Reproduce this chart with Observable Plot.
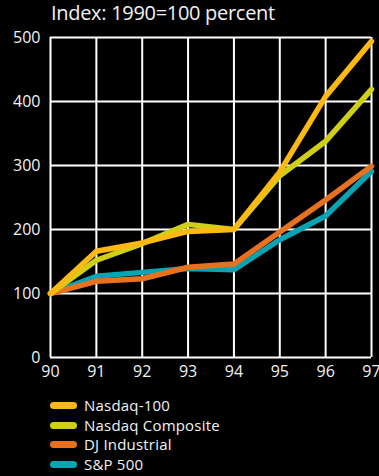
<!DOCTYPE html>
<html>
<head>
<meta charset="utf-8">
<script src="https://cdn.jsdelivr.net/npm/d3@7"></script>
<script src="https://cdn.jsdelivr.net/npm/@observablehq/plot@0.6"></script>
<style>
  html, body { margin: 0; padding: 0; background: #000; }
  body { width: 379px; height: 476px; overflow: hidden; font-family: "Open Sans", sans-serif; color: #f2f2f2; }
  #title { height: 26px; padding-left: 51px; font-size: 20px; line-height: 26px; letter-spacing: -0.3px; white-space: nowrap; }
  #chart svg { display: block; overflow: visible; }
  #legend { padding-left: 50px; padding-top: 11px; }
  .row { display: flex; align-items: center; height: 19.5px; line-height: 19.5px; font-size: 15px; letter-spacing: 0.2px; white-space: nowrap; }
  .sw { width: 27px; height: 7px; border-radius: 4px; margin-right: 7px; flex: none; }
</style>
</head>
<body>
<div id="title">Index: 1990=100 percent</div>
<div id="chart"></div>
<div id="legend"></div>
<script>
// Years shown on the x axis (two-digit labels)
const years = [90, 91, 92, 93, 94, 95, 96, 97];
const yTicks = [0, 100, 200, 300, 400, 500];

// Index values, 1990 = 100
const nasdaq100    = [100, 166, 179, 197, 200, 290, 408, 494];
const nasdaqComp   = [100, 152, 178, 208, 200, 284, 338, 419];
const djIndustrial = [100, 119, 123, 141, 146, 196, 246, 299];
const sp500        = [100, 127, 133, 139, 137, 184, 221, 291];

const seriesNames  = ["Nasdaq-100", "Nasdaq Composite", "DJ Industrial", "S&P 500"];
const seriesValues = [nasdaq100, nasdaqComp, djIndustrial, sp500];
const seriesColors = ["#fdb913", "#cfcf18", "#e8711f", "#0aa3b3"];

// Long-format table for Plot
const rows = [];
seriesNames.forEach((name, i) => {
  years.forEach((yr, j) => rows.push({series: name, year: yr, value: seriesValues[i][j]}));
});

// Draw back to front: S&P first, Nasdaq-100 on top
const drawOrder = [3, 2, 1, 0];

const chart = Plot.plot({
  width: 379,
  height: 359,
  marginTop: 11,
  marginBottom: 28,
  marginLeft: 50,
  marginRight: 8,
  style: {background: "#000", color: "#f2f2f2", fontFamily: "Open Sans, sans-serif", fontSize: "16px"},
  x: {domain: [90, 97], ticks: years, tickFormat: d => String(d), label: null, tickSize: 0, tickPadding: 8},
  y: {domain: [0, 500], ticks: yTicks, label: null, tickSize: 0, tickPadding: 10},
  marks: [
    Plot.gridX(years, {stroke: "#ffffff", strokeOpacity: 1, strokeWidth: 2}),
    Plot.gridY(yTicks, {stroke: "#ffffff", strokeOpacity: 1, strokeWidth: 2}),
    ...drawOrder.map(i => Plot.line(rows.filter(r => r.series === seriesNames[i]), {
      x: "year", y: "value", stroke: seriesColors[i], strokeWidth: 5.5,
      strokeLinejoin: "round", strokeLinecap: "round"
    }))
  ]
});
document.getElementById("chart").appendChild(chart);

// Legend
const legend = d3.select("#legend");
seriesNames.forEach((name, i) => {
  const row = legend.append("div").attr("class", "row");
  row.append("div").attr("class", "sw").style("background", seriesColors[i]);
  row.append("span").text(name);
});
</script>
</body>
</html>
